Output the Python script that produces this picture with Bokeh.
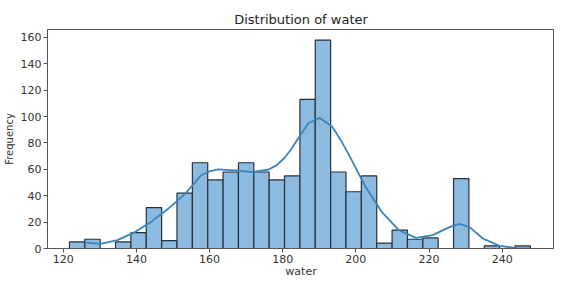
from bokeh.plotting import figure
from bokeh.embed import file_html
from bokeh.resources import INLINE
from bokeh.models import FixedTicker, Range1d

# Histogram data (bin edges: start + width*i)
bin_start = 121.7
bin_width = 4.2
counts = [5, 7, 0, 5, 12, 31, 6, 42, 65, 52, 58, 65, 58, 52, 55,
          113, 158, 58, 43, 55, 4, 14, 7, 8, 0, 53, 0, 2, 0, 2]

# KDE curve points
kde_x = [126.3, 130.2, 134.8, 139.3, 143.9, 148.5, 153.1, 155.4, 157.7, 160.0, 162.3,
         166.9, 171.4, 176.0, 178.3, 180.6, 182.5, 184.3, 187.0, 190.1, 193.5, 195.8, 198.0, 202.6,
         207.2, 211.8, 216.4, 221.0, 225.6, 228.3, 231.1, 234.7, 239.3, 243.9, 247.5]
kde_y = [4.4, 3.5, 6.4, 12.0, 20.0, 29.7, 40.8, 48.0, 55.5, 58.5, 60.0,
         59.2, 58.0, 59.7, 63.0, 69.0, 76.0, 83.8, 94.9, 99.0, 92.4, 82.5, 71.5, 47.0,
         27.3, 13.8, 8.1, 10.1, 16.2, 18.7, 16.2, 7.6, 2.0, 0.3, 0.1]

x_ticks = [120, 140, 160, 180, 200, 220, 240]
y_ticks = [0, 20, 40, 60, 80, 100, 120, 140, 160]

lefts = [bin_start + bin_width * i for i in range(len(counts))]
rights = [l + bin_width for l in lefts]

p = figure(width=554, height=280, output_backend="svg", toolbar_location=None,
           title="Distribution of water",
           x_range=Range1d(115.7, 254.3), y_range=Range1d(0, 166))

p.quad(left=lefts, right=rights, bottom=0, top=counts,
       fill_color="#8dbbe0", line_color="#27313b", line_width=1.2)
p.line(kde_x, kde_y, line_color="#3b84bb", line_width=1.8)

p.title.align = "center"
p.title.vertical_align = "bottom"
p.title.text_font = "DejaVu Sans"
p.title.text_font_size = "13px"
p.title.text_font_style = "normal"
p.title.text_color = "#222222"
p.title.standoff = 5

for ax in (p.xaxis[0], p.yaxis[0]):
    ax.major_label_text_font = "DejaVu Sans"
    ax.major_label_text_font_size = "11px"
    ax.major_label_text_color = "#333333"
    ax.axis_label_text_font = "DejaVu Sans"
    ax.axis_label_text_font_style = "normal"
    ax.axis_label_text_color = "#333333"
    ax.minor_tick_line_color = None
    ax.major_tick_in = 0
    ax.major_tick_out = 4
    ax.axis_line_color = "#555555"
    ax.major_tick_line_color = "#555555"
    ax.major_label_standoff = 2

p.xaxis.axis_label = "water"
p.xaxis.axis_label_text_font_size = "11px"
p.xaxis.major_label_standoff = 2
p.xaxis.axis_label_standoff = -1
p.xaxis.ticker = FixedTicker(ticks=x_ticks)
p.yaxis.axis_label = "Frequency"
p.yaxis.axis_label_text_font_size = "10px"
p.yaxis.axis_label_standoff = 3
p.yaxis.ticker = FixedTicker(ticks=y_ticks)

p.xgrid.grid_line_color = None
p.ygrid.grid_line_color = None
p.outline_line_color = "#555555"
p.min_border_left = 0
p.min_border_right = 0
p.min_border_top = 29
p.min_border_bottom = 0

open("out.html", "w").write(file_html(p, INLINE))
